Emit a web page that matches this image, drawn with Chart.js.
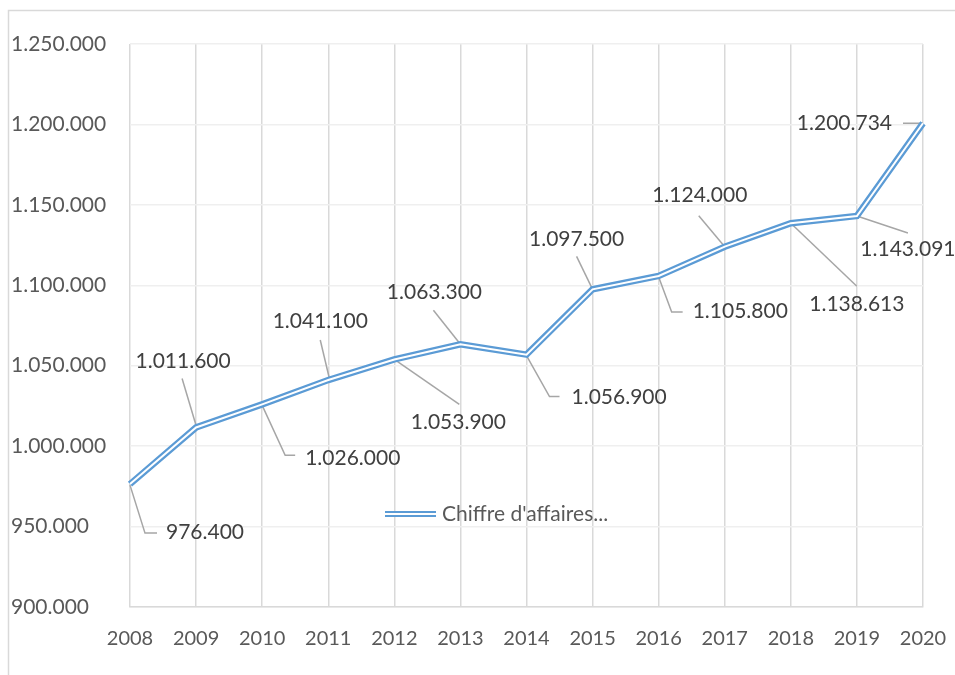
<!DOCTYPE html>
<html>
<head>
<meta charset="utf-8">
<script src="https://cdn.jsdelivr.net/npm/chart.js@4.4.1/dist/chart.umd.min.js"></script>
<style>
    html, body { margin: 0; padding: 0; background: #fff; }
    #wrap { width: 955px; height: 675px; position: relative; }
</style>
</head>
<body>
<div id="wrap"><canvas id="lineChart"></canvas></div>
<script>
// data
const years = ['2008', '2009', '2010', '2011', '2012', '2013', '2014', '2015', '2016', '2017', '2018', '2019', '2020'];
const revenue = [976400, 1011600, 1026000, 1041100, 1053900, 1063300, 1056900, 1097500, 1105800, 1124000, 1138613, 1143091, 1200734];
const seriesName = "Chiffre d'affaires...";
const yMin = 900000;
const yMax = 1250000;
const yStep = 50000;

const FONT = 'Lato, "Open Sans", sans-serif';
const BLUE = '#5B9BD5';

// 1.250.000 style
function fmt(v) {
    return String(Math.round(v)).replace(/\B(?=(\d{3})+(?!\d))/g, '.');
}

// label placement (offsets from the point, px) + leader line path
const labelPlacement = [
    { dx: 36, dy: 48, align: 'left', leader: [[0, 1], [15, 49], [27, 49]] },
    { dx: -13, dy: -66, align: 'center', leader: [[0, -2], [-14, -49]] },
    { dx: 43, dy: 54, align: 'left', leader: [[0, 1], [23, 51], [33, 51]] },
    { dx: -8, dy: -59, align: 'center', leader: [[1, -2], [-8, -40]] },
    { dx: 64, dy: 63, align: 'center', leader: [[0, 0], [65, 45]] },
    { dx: -26, dy: -52, align: 'center', leader: [[0, 0], [-27, -34]] },
    { dx: 45, dy: 43, align: 'left', leader: [[0, 1], [23, 42], [33, 42]] },
    { dx: -16, dy: -50, align: 'center', leader: [[0, 0], [-16, -33]] },
    { dx: 34, dy: 35, align: 'left', leader: [[0, 1], [13, 36], [24, 36]] },
    { dx: -25, dy: -51, align: 'center', leader: [[0, 0], [-26, -31]] },
    { dx: 66, dy: 81, align: 'center', leader: [[0, 0], [66, 63]] },
    { dx: 51, dy: 33, align: 'center', leader: [[0, 0], [51, 17]] },
    { dx: -31, dy: 0, align: 'right', leader: [[0, 0], [-20, 0]] },
];

// outer frame of the chart object
const framePlugin = {
    id: 'frame',
    beforeDraw(chart) {
        const ctx = chart.ctx;
        ctx.save();
        ctx.fillStyle = '#fff';
        ctx.fillRect(0, 0, chart.width, chart.height);
        ctx.strokeStyle = '#d9d9d9';
        ctx.lineWidth = 1.5;
        ctx.beginPath();
        ctx.moveTo(8.5, chart.height);
        ctx.lineTo(8.5, 10.5);
        ctx.lineTo(chart.width, 10.5);
        ctx.stroke();
        ctx.restore();
    },
};

// data labels with leader lines
const labelPlugin = {
    id: 'leaderLabels',
    beforeDatasetsDraw(chart) {
        const meta = chart.getDatasetMeta(0);
        const ctx = chart.ctx;
        ctx.save();
        ctx.strokeStyle = '#a6a6a6';
        ctx.lineWidth = 1.5;
        meta.data.forEach((pt, i) => {
            const p = labelPlacement[i];
            ctx.beginPath();
            p.leader.forEach(([lx, ly], k) => {
                if (k === 0) ctx.moveTo(pt.x + lx, pt.y + ly);
                else ctx.lineTo(pt.x + lx, pt.y + ly);
            });
            ctx.stroke();
        });
        ctx.restore();
    },
    afterDatasetsDraw(chart) {
        const meta = chart.getDatasetMeta(0);
        const ctx = chart.ctx;
        ctx.save();
        ctx.font = `21px ${FONT}`;
        ctx.fillStyle = '#404040';
        ctx.textBaseline = 'middle';
        meta.data.forEach((pt, i) => {
            const p = labelPlacement[i];
            ctx.textAlign = p.align;
            ctx.fillText(fmt(revenue[i]), pt.x + p.dx, pt.y + p.dy);
        });
        ctx.restore();
    },
};

// legend sitting inside the plot, like the dragged Excel legend
const legendPlugin = {
    id: 'innerLegend',
    afterDraw(chart) {
        const ctx = chart.ctx;
        const x = 385, y = 514, w = 51;
        ctx.save();
        ctx.strokeStyle = BLUE;
        ctx.lineWidth = 6;
        ctx.beginPath();
        ctx.moveTo(x, y);
        ctx.lineTo(x + w, y);
        ctx.stroke();
        ctx.strokeStyle = '#fff';
        ctx.lineWidth = 2;
        ctx.beginPath();
        ctx.moveTo(x, y);
        ctx.lineTo(x + w, y);
        ctx.stroke();
        ctx.font = `21px ${FONT}`;
        ctx.fillStyle = '#595959';
        ctx.textAlign = 'left';
        ctx.textBaseline = 'middle';
        ctx.fillText(chart.data.datasets[0].label, x + w + 6, y);
        ctx.restore();
    },
};

document.addEventListener('DOMContentLoaded', () => {
    const ctx = document.getElementById('lineChart').getContext('2d');

    new Chart(ctx, {
        type: 'line',
        data: {
            labels: years,
            datasets: [
                {
                    label: seriesName,
                    data: revenue,
                    borderColor: BLUE,
                    borderWidth: 6.5,
                    pointRadius: 0,
                    tension: 0,
                    fill: false,
                    order: 2,
                },
                {
                    // white core -> double line
                    label: '',
                    data: revenue,
                    borderColor: '#ffffff',
                    borderWidth: 2,
                    pointRadius: 0,
                    tension: 0,
                    fill: false,
                    order: 1,
                },
            ],
        },
        options: {
            responsive: true,
            maintainAspectRatio: false,
            animation: false,
            layout: {
                padding: { left: 11, top: 44, right: 32, bottom: 0 },
            },
            plugins: {
                legend: { display: false },
                tooltip: { enabled: false },
            },
            scales: {
                x: {
                    offset: false,
                    grid: { color: '#d9d9d9', lineWidth: 1.5, drawTicks: false },
                    border: { color: '#d9d9d9', width: 1.5 },
                    ticks: {
                        color: '#595959',
                        font: { family: FONT, size: 20 },
                        padding: 20,
                        maxRotation: 0,
                        autoSkip: false,
                    },
                    afterFit(scale) {
                        scale.height = 68;
                        scale.paddingLeft = 0;
                        scale.paddingRight = 0;
                    },
                },
                y: {
                    min: yMin,
                    max: yMax,
                    grid: { color: '#efefef', lineWidth: 1.5, drawTicks: false },
                    border: { display: false },
                    ticks: {
                        stepSize: yStep,
                        crossAlign: 'far',
                        color: '#595959',
                        font: { family: FONT, size: 21 },
                        callback: (v) => fmt(v),
                    },
                    afterFit(scale) { scale.width = 119; },
                },
            },
        },
        plugins: [framePlugin, labelPlugin, legendPlugin],
    });
});
</script>
</body>
</html>
